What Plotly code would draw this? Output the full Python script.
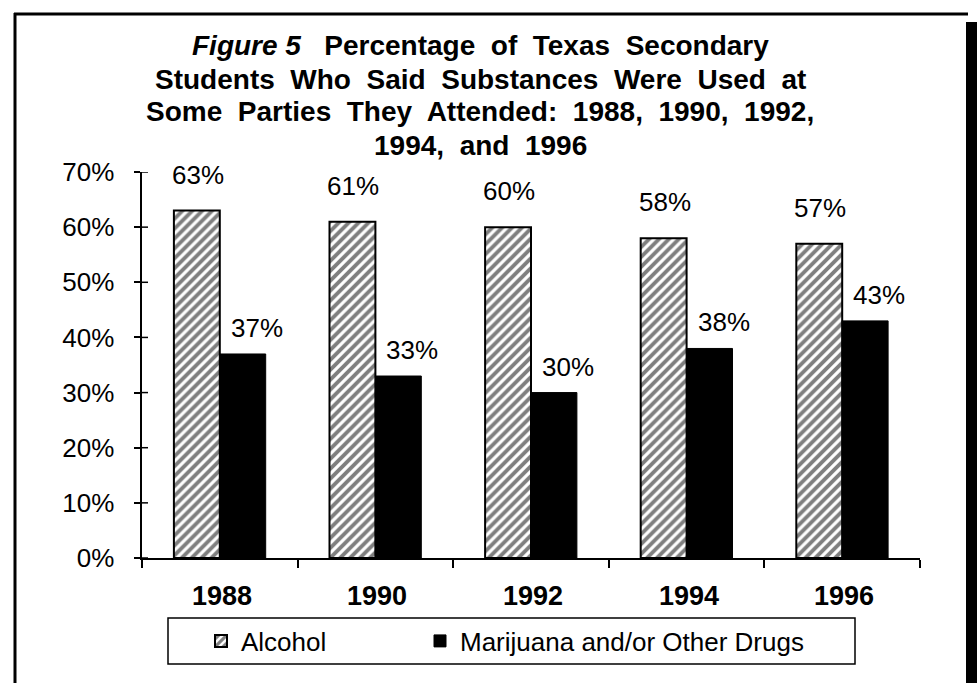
import plotly.graph_objects as go

# ---- data ----
years = ["1988", "1990", "1992", "1994", "1996"]
alcohol = [63, 61, 60, 58, 57]
drugs = [37, 33, 30, 38, 43]
series_names = ["Alcohol", "Marijuana and/or Other Drugs"]
y_ticks = [0, 10, 20, 30, 40, 50, 60, 70]
y_tick_text = ["0%", "10%", "20%", "30%", "40%", "50%", "60%", "70%"]
title_lines = [
    "<b><i>Figure 5</i></b>\u00a0 \u00a0<b>Percentage\u00a0 of\u00a0 Texas\u00a0 Secondary</b>",
    "<b>Students\u00a0 Who\u00a0 Said\u00a0 Substances\u00a0 Were\u00a0 Used\u00a0 at</b>",
    "<b>Some\u00a0 Parties\u00a0 They\u00a0 Attended:\u00a0 1988,\u00a0 1990,\u00a0 1992,</b>",
    "<b>1994,\u00a0 and\u00a0 1996</b>",
]

# ---- page geometry (pixels) ----
W_PX, H_PX = 977, 683
L, R, T, B = 142, 920, 172, 558
PW, PH = R - L, B - T


def px(x):
    return (x - L) / PW


def py(y):
    return (B - y) / PH


FONT = "Liberation Sans, Arial, Helvetica, sans-serif"

fig = go.Figure()
fig.add_trace(go.Bar(
    x=years, y=alcohol, name=series_names[0],
    marker=dict(color="white",
                pattern=dict(shape="/", fgcolor="black", bgcolor="white",
                             size=7, solidity=0.55),
                line=dict(color="black", width=2)),
))
fig.add_trace(go.Bar(
    x=years, y=drugs, name=series_names[1], legend="legend2",
    marker=dict(color="black", line=dict(color="black", width=1)),
))

annotations = []
# value labels above each bar (x given as the category's index on the axis)
for i, v in enumerate(alcohol):
    annotations.append(dict(x=i, y=v, xref="x", yref="y", text=f"{v}%",
                            showarrow=False, xshift=-22, yshift=36,
                            yanchor="middle",
                            font=dict(family=FONT, size=26, color="black")))
for i, v in enumerate(drugs):
    annotations.append(dict(x=i, y=v, xref="x", yref="y", text=f"{v}%",
                            showarrow=False, xshift=37, yshift=26,
                            yanchor="middle",
                            font=dict(family=FONT, size=26, color="black")))
# category labels under the axis
for i, yr in enumerate(years):
    annotations.append(dict(x=i, y=py(596), xref="x", yref="paper",
                            text=f"<b>{yr}</b>", showarrow=False,
                            xshift=2, yanchor="middle",
                            font=dict(family=FONT, size=27, color="black")))
# title, one line at a time
for i, line in enumerate(title_lines):
    annotations.append(dict(x=px(480), y=py(46 + 33 * i), xref="paper", yref="paper",
                            text=line, showarrow=False, xanchor="center",
                            yanchor="middle",
                            font=dict(family=FONT, size=28, color="black")))

shapes = [
    # outer frame
    dict(type="line", xref="paper", yref="paper", x0=px(15), x1=px(15),
         y0=py(13), y1=py(690), line=dict(color="black", width=3)),
    dict(type="line", xref="paper", yref="paper", x0=px(14), x1=px(968),
         y0=py(14), y1=py(14), line=dict(color="black", width=3)),
    dict(type="rect", xref="paper", yref="paper", x0=px(966), x1=px(980),
         y0=py(22), y1=py(690), fillcolor="black", line=dict(width=0)),
    # legend box
    dict(type="rect", xref="paper", yref="paper", x0=px(168), x1=px(855),
         y0=py(618), y1=py(664), line=dict(color="black", width=1.5)),
]
# inner halves of the y-axis tick marks
for v in y_ticks:
    shapes.append(dict(type="line", xref="paper", yref="y", x0=0, x1=px(L + 6),
                       y0=v, y1=v, layer="above",
                       line=dict(color="black", width=1.5)))

legend_common = dict(orientation="h", xanchor="left", yanchor="middle",
                     bgcolor="rgba(0,0,0,0)", borderwidth=0,
                     font=dict(family=FONT, size=26, color="black"))

fig.update_layout(
    width=W_PX, height=H_PX,
    margin=dict(l=L, r=W_PX - R, t=T, b=H_PX - B, autoexpand=False),
    paper_bgcolor="white", plot_bgcolor="white",
    barmode="group", bargap=0.41, bargroupgap=0,
    showlegend=True,
    legend=dict(x=px(201), y=py(641), **legend_common),
    legend2=dict(x=px(420), y=py(641), **legend_common),
    xaxis=dict(type="category", range=[-0.5, len(years) - 0.5],
               showline=True, linecolor="black", linewidth=2,
               ticks="outside", tickson="boundaries", ticklen=8, tickwidth=1.5,
               tickcolor="black", showgrid=False, showticklabels=False),
    yaxis=dict(range=[0, 70], tickmode="array", tickvals=y_ticks,
               ticktext=[t + "\u00a0\u00a0" for t in y_tick_text],
               showgrid=False, zeroline=False, showline=True, linecolor="black",
               linewidth=2, ticks="outside", ticklen=6, tickwidth=1.5,
               tickcolor="black",
               tickfont=dict(family=FONT, size=26, color="black")),
    annotations=annotations,
    shapes=shapes,
)

fig.write_html("out.html")
